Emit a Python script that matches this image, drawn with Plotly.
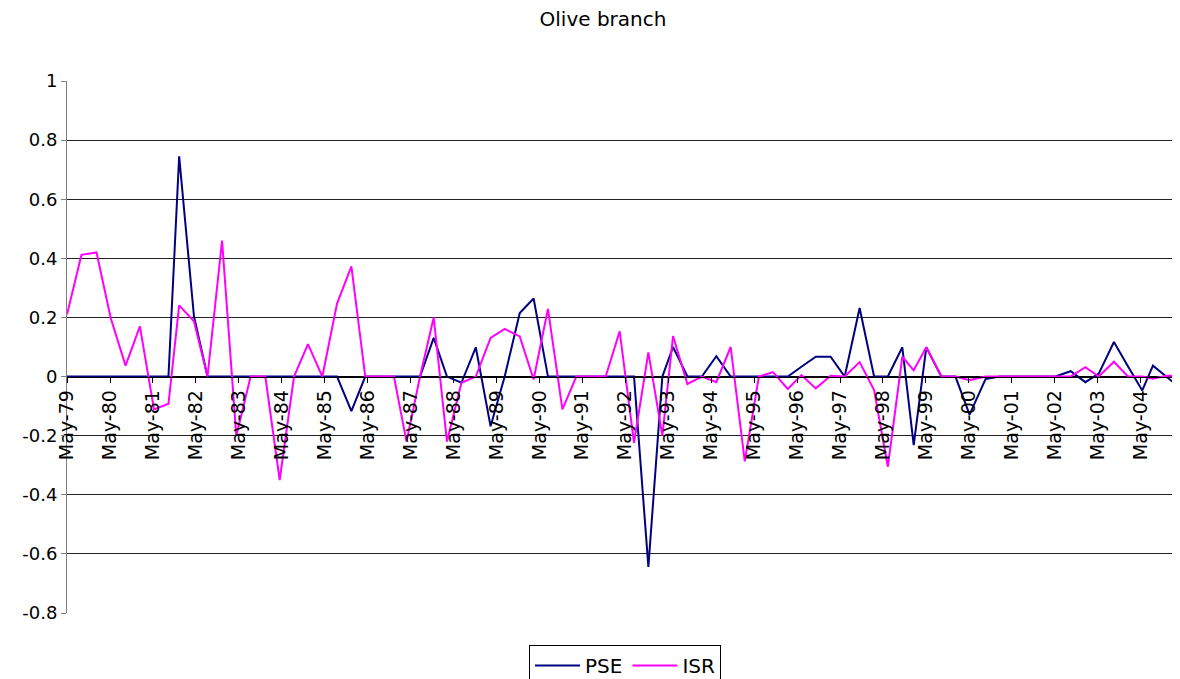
import plotly.graph_objects as go

dates = [
    "1979-05-01", "1979-09-01", "1980-01-07", "1980-05-07", "1980-09-10",
    "1981-01-10", "1981-05-10", "1981-09-10", "1981-12-10", "1982-04-15",
    "1982-08-08", "1982-12-10", "1983-04-10", "1983-08-10", "1983-12-13",
    "1984-04-13", "1984-08-13", "1984-12-10", "1985-04-11", "1985-08-14",
    "1985-12-14", "1986-04-11", "1986-08-11", "1986-12-11", "1987-03-28",
    "1987-07-21", "1987-11-14", "1988-03-06", "1988-07-07", "1988-11-06",
    "1989-03-12", "1989-07-10", "1989-11-15", "1990-03-13", "1990-07-13",
    "1990-11-13", "1991-03-11", "1991-07-17", "1991-11-16", "1992-03-14",
    "1992-07-14", "1992-11-13", "1993-03-12", "1993-06-11", "1993-10-11",
    "1994-02-11", "1994-06-14", "1994-10-14", "1995-02-11", "1995-06-11",
    "1995-10-09", "1996-02-12", "1996-06-07", "1996-10-07", "1997-02-10",
    "1997-06-10", "1997-10-15", "1998-02-15", "1998-06-12", "1998-10-13",
    "1999-01-18", "1999-05-05", "1999-09-10", "2000-01-08", "2000-05-07",
    "2000-09-21", "2001-01-19", "2001-05-16", "2001-09-13", "2002-01-11",
    "2002-05-08", "2002-09-14", "2003-01-17", "2003-05-11", "2003-09-17",
    "2004-01-14", "2004-05-15", "2004-08-14", "2004-12-08", "2005-04-06",
]

pse = [
    0, 0, 0, 0, 0,
    0, 0, 0, 0.745, 0.204,
    0, 0, 0, 0, 0,
    0, 0, 0, 0, 0,
    -0.117, 0, 0, 0, 0,
    0, 0.131, 0, -0.021, 0.099,
    -0.168, 0.0, 0.215, 0.264, 0,
    0, 0, 0, 0, 0,
    0, -0.644, 0, 0.1, 0,
    0, 0.069, 0, 0, 0,
    0, 0, 0.033, 0.067, 0.067,
    0, 0.232, 0, 0, 0.099,
    -0.232, 0.099, 0, 0, -0.129,
    -0.008, 0, 0, 0, 0,
    0, 0.018, -0.019, 0.01, 0.117,
    0.035, -0.047, 0.037, 0.0, -0.04,
]

isr = [
    0.21, 0.412, 0.42, 0.198, 0.037,
    0.17, -0.111, -0.092, 0.241, 0.187,
    0, 0.46, -0.2, 0, 0,
    -0.35, 0, 0.11, 0, 0.247,
    0.373, 0, 0, 0, -0.22,
    0.0, 0.2, -0.22, -0.021, 0.0,
    0.131, 0.161, 0.136, -0.01, 0.229,
    -0.111, 0, 0, 0, 0.153,
    -0.224, 0.082, -0.2, 0.137, -0.025,
    0, -0.019, 0.1, -0.287, 0,
    0.015, -0.042, 0.005, -0.04, 0.003,
    0, 0.049, -0.046, -0.305, 0.067,
    0.021, 0.099, 0, 0, -0.012,
    0, 0, 0, 0, 0,
    0, 0, 0.032, 0, 0.05,
    0, 0, -0.007, 0.003, 0.003,
]

tick_dates = [f"{y}-05-01" for y in range(1979, 2005)]
tick_labels = [f"May-{str(y)[2:]}" for y in range(1979, 2005)]

y_ticks = [1, 0.8, 0.6, 0.4, 0.2, 0, -0.2, -0.4, -0.6, -0.8]
y_labels = ["1", "0.8", "0.6", "0.4", "0.2", "0", "-0.2", "-0.4", "-0.6", "-0.8"]

FONT = "Verdana, DejaVu Sans, sans-serif"

# the page places the figure 8px from the window's top-left corner
W, H = 1172, 671

fig = go.Figure()
fig.add_trace(go.Scatter(x=dates, y=pse, mode="lines", name="PSE",
                         line=dict(color="#000080", width=2)))
fig.add_trace(go.Scatter(x=dates, y=isr, mode="lines", name="ISR",
                         line=dict(color="#FF00FF", width=2)))

fig.update_layout(
    width=W, height=H,
    margin=dict(l=59, r=0, t=73, b=66, autoexpand=False),
    paper_bgcolor="white", plot_bgcolor="white",
    font=dict(family=FONT, size=18, color="black"),
    title=dict(text="Olive branch", x=595 / W, xanchor="center",
               xref="container", yref="container",
               y=1 - 11 / H, yanchor="middle",
               font=dict(family=FONT, size=20, color="black")),
    showlegend=True,
    legend=dict(orientation="h", xref="container", yref="container",
                x=617 / W, xanchor="center",
                y=1 - 637 / H, yanchor="top",
                bordercolor="black", borderwidth=1,
                font=dict(family=FONT, size=20, color="black"),
                itemwidth=45),
    xaxis=dict(type="date", range=["1979-05-01", "2005-04-01"],
               tickmode="array", tickvals=tick_dates, ticktext=tick_labels,
               tickangle=-90, ticks="outside", ticklen=5, tickcolor="black",
               showgrid=False, showline=True, linecolor="black", linewidth=1,
               anchor="free", position=0.8 / 1.8, automargin=False,
               tickfont=dict(family=FONT, size=19, color="black")),
    yaxis=dict(range=[-0.8, 1], domain=[0, 1], automargin=False,
               tickmode="array", tickvals=y_ticks, ticktext=y_labels,
               ticks="outside", ticklen=5, tickcolor="#808080",
               showgrid=True, gridcolor="#222222", gridwidth=1,
               zeroline=True, zerolinecolor="black", zerolinewidth=1,
               showline=True, linecolor="#808080", linewidth=1,
               tickfont=dict(family=FONT, size=18, color="black")),
)

fig.write_html("out.html")
